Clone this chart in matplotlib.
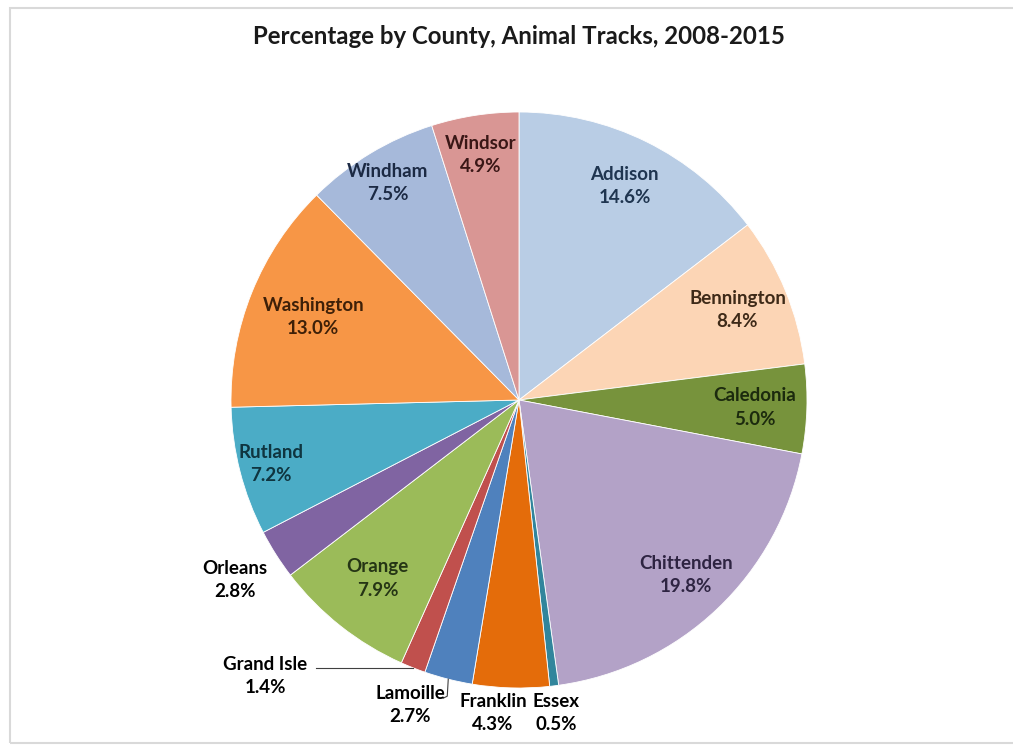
import numpy as np
import matplotlib
matplotlib.use("Agg")
import matplotlib.pyplot as plt
from matplotlib.patches import Rectangle

counties = ["Addison", "Bennington", "Caledonia", "Chittenden", "Essex", "Franklin",
            "Lamoille", "Grand Isle", "Orange", "Orleans", "Rutland", "Washington",
            "Windham", "Windsor"]
percent = [14.6, 8.4, 5.0, 19.8, 0.5, 4.3, 2.7, 1.4, 7.9, 2.8, 7.2, 13.0, 7.5, 4.9]

colors = ["#B9CDE5", "#FCD5B5", "#77933C", "#B3A2C7", "#31859C", "#E46C0A",
          "#4F81BD", "#C0504D", "#9BBB59", "#8064A2", "#4BACC6", "#F79646",
          "#A6B9DA", "#D99694"]
text_colors = ["#1F3550", "#3E2A18", "#1C2A0E", "#2E2442", "#000000", "#000000",
               "#000000", "#000000", "#253515", "#000000", "#0F3540", "#3E2008",
               "#1C2A44", "#3A1716"]
# label radius as fraction of the pie radius (inside labels), None = placed outside
label_r = [0.83, 0.82, 0.82, 0.84, None, None, None, None, 0.79, None, 0.89, 0.77, 0.88, 0.86]
# outside labels: offset in pixels from the wedge's edge point
outside_off = {"Essex": (2, -27), "Franklin": (-18, -25), "Lamoille": (-38, -26),
               "Grand Isle": (-148, -8), "Orleans": (-41, -26)}

plt.rcParams['font.family'] = ['Lato', 'DejaVu Sans']

W, H = 1013, 745
fig = plt.figure(figsize=(W / 100, H / 100), dpi=100)
ax = fig.add_axes([0, 0, 1, 1])

cx, cy, R = 519, H - 400, 288
wedges, _ = ax.pie(percent, colors=colors, startangle=90, counterclock=False,
                   center=(cx, cy), radius=R, frame=True,
                   wedgeprops=dict(linewidth=0.6, edgecolor="white"))
ax.set_xlim(0, W)
ax.set_ylim(0, H)
ax.set_aspect('equal')
ax.axis('off')

fs = 13.5
for i, w in enumerate(wedges):
    mid = np.deg2rad((w.theta1 + w.theta2) / 2)
    txt = f"{counties[i]}\n{percent[i]:.1f}%"
    name = counties[i]
    if label_r[i] is not None:
        r = label_r[i] * R
        x, y = cx + r * np.cos(mid), cy + r * np.sin(mid)
        ax.text(x, y, txt, ha='center', va='center', fontsize=fs, fontweight='bold',
                color=text_colors[i], linespacing=1.45)
    else:
        ex, ey = cx + R * np.cos(mid), cy + R * np.sin(mid)
        dx, dy = outside_off[name]
        if name == "Grand Isle":
            ax.plot([ex, ex - 97], [ey, ey], color='#404040', lw=0.8)
        elif name == "Lamoille":
            ax.plot([ex, ex - 1, ex - 5], [ey, ey - 17, ey - 19], color='#404040', lw=0.8)
        ax.text(ex + dx, ey + dy, txt, ha='center', va='center', fontsize=fs,
                fontweight='bold', color='black', linespacing=1.45)

ax.text(519, H - 37, "Percentage by County, Animal Tracks, 2008-2015", ha='center',
        va='center', fontsize=17.3, fontweight='bold', color='#1a1a1a')

ax.add_patch(Rectangle((10, 2), W, H - 10, fill=False, edgecolor='#D9D9D9', lw=1.5))

fig.savefig("out.png", dpi=100, facecolor='white')
